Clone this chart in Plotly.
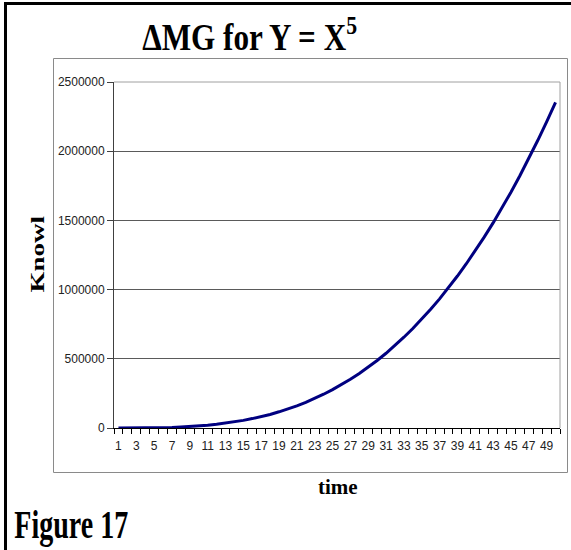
import plotly.graph_objects as go

# Category axis: time steps 1..50
time = [1, 2, 3, 4, 5, 6, 7, 8, 9, 10,
        11, 12, 13, 14, 15, 16, 17, 18, 19, 20,
        21, 22, 23, 24, 25, 26, 27, 28, 29, 30,
        31, 32, 33, 34, 35, 36, 37, 38, 39, 40,
        41, 42, 43, 44, 45, 46, 47, 48, 49, 50]

# Knowl value at each time step
knowl = [0, 0, 0, 1000, 1000, 3000, 4000, 7000, 10000, 15000,
         20000, 27000, 35000, 44000, 55000, 68000, 82000, 98000, 117000, 137000,
         160000, 185000, 213000, 244000, 277000, 313000, 352000, 394000, 439000, 488000,
         540000, 596000, 656000, 719000, 786000, 858000, 933000, 1013000, 1098000, 1187000,
         1280000, 1379000, 1482000, 1591000, 1704000, 1823000, 1947000, 2077000, 2212000, 2353000]

# Labelled categories on the x axis and value ticks on the y axis
x_tick_vals = [1, 3, 5, 7, 9, 11, 13, 15, 17, 19, 21, 23, 25,
               27, 29, 31, 33, 35, 37, 39, 41, 43, 45, 47, 49]
x_tick_text = [str(v) for v in x_tick_vals]
y_tick_vals = [0, 500000, 1000000, 1500000, 2000000, 2500000]
y_tick_text = ["0", "500000", "1000000", "1500000", "2000000", "2500000"]

W, H = 571, 550
PL, PR, PT, PB = 114, 560, 82, 428  # plot area in pixels


def px(x):
    return (x - PL) / (PR - PL)


def py(y):
    return (PB - y) / (PB - PT)


SERIF = "Liberation Serif, Times New Roman, serif"
SANS = "Liberation Sans, Arial, sans-serif"

fig = go.Figure()
fig.add_trace(go.Scatter(
    x=time, y=knowl, mode="lines",
    line=dict(color="#000080", width=3),
    hoverinfo="skip", showlegend=False,
))

fig.update_layout(
    width=W, height=H,
    margin=dict(l=PL, r=W - PR, t=PT, b=H - PB, pad=0),
    paper_bgcolor="white", plot_bgcolor="white",
    showlegend=False,
    xaxis=dict(
        range=[0.5, 50.5], tickmode="array",
        tickvals=x_tick_vals, ticktext=x_tick_text,
        # invisible major ticks only push the labels below the tick marks
        ticks="outside", ticklen=7, tickcolor="rgba(0,0,0,0)",
        minor=dict(ticks="outside", tick0=0.5, dtick=1, ticklen=5,
                   tickcolor="#000000", tickwidth=1, showgrid=False),
        showgrid=False, zeroline=False,
        showline=True, linecolor="#000000", linewidth=1,
        tickfont=dict(family=SANS, size=12, color="#222222"),
        fixedrange=True,
    ),
    yaxis=dict(
        range=[0, 2500000], tickmode="array",
        tickvals=y_tick_vals, ticktext=y_tick_text,
        ticks="outside", ticklen=6, tickcolor="#404040",
        showgrid=True, gridcolor="#5a5a5a", gridwidth=1,
        zeroline=False,
        showline=True, linecolor="#404040", linewidth=1,
        tickfont=dict(family=SANS, size=12, color="#222222"),
        fixedrange=True,
    ),
)

shapes = []
# plot area border on the top and right
shapes.append(dict(type="line", xref="paper", yref="paper",
                   x0=0, x1=1, y0=1, y1=1, line=dict(color="#a0a0a0", width=1)))
shapes.append(dict(type="line", xref="paper", yref="paper",
                   x0=1, x1=1, y0=0, y1=1, line=dict(color="#a0a0a0", width=1)))
# chart box
shapes.append(dict(type="rect", xref="paper", yref="paper",
                   x0=px(53.5), x1=px(567.5), y0=py(472.5), y1=py(58.5),
                   line=dict(color="#8a8a8a", width=1), layer="below"))
# black page frame (left and top)
shapes.append(dict(type="line", xref="paper", yref="paper",
                   x0=px(5.5), x1=px(5.5), y0=py(2), y1=py(560),
                   line=dict(color="#000000", width=3)))
shapes.append(dict(type="line", xref="paper", yref="paper",
                   x0=px(4), x1=px(580), y0=py(3.5), y1=py(3.5),
                   line=dict(color="#000000", width=3)))
fig.update_layout(shapes=shapes)

annotations = [
    dict(text="ΔMG for Y = X<sup>5</sup>", x=px(249), y=py(35),
         font=dict(family=SERIF, size=37, color="#000000")),
    dict(text="Knowl", x=px(37.5), y=py(254), textangle=-90,
         font=dict(family=SERIF, size=27, color="#000000")),
    dict(text="time", x=px(338), y=py(487),
         font=dict(family=SERIF, size=21, color="#000000")),
    dict(text="Figure 17", x=px(71), y=py(524),
         font=dict(family=SERIF, size=40, color="#000000")),
]
for a in annotations:
    a.update(xref="paper", yref="paper", xanchor="center", yanchor="middle",
             showarrow=False)
    a["text"] = "<b>" + a["text"] + "</b>"
fig.update_layout(annotations=annotations)

# Condense the bold serif headings horizontally
post = """
var gd = document.getElementById('{plot_id}');
var widths = {'0': 215, '3': 114};
gd.querySelectorAll('g.annotation').forEach(function(g) {
  var idx = g.getAttribute('data-index');
  var t = g.querySelector('text.annotation-text');
  if (!t) return;
  t.style.transformBox = 'fill-box';
  t.style.transformOrigin = 'center';
  if (widths[idx]) {
    var w = t.getBBox().width;
    if (w > 0) t.style.transform = 'scaleX(' + (widths[idx] / w) + ')';
  } else if (idx === '1') {
    t.style.transform = 'scaleY(0.67)';
  }
});
"""

fig.write_html("out.html", config={"displayModeBar": False, "staticPlot": True},
               post_script=post)
